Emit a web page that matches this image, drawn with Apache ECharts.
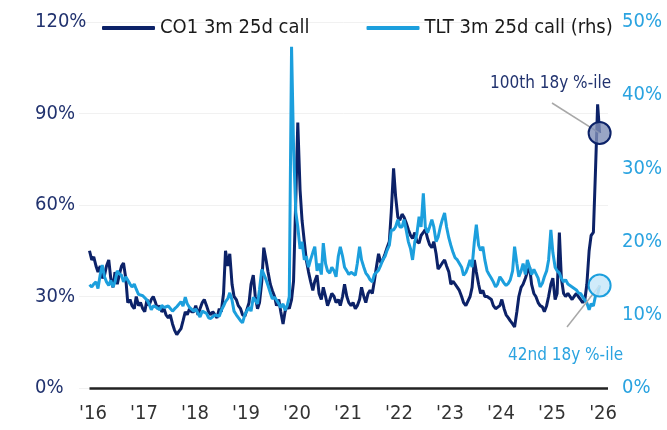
<!DOCTYPE html>
<html><head><meta charset="utf-8">
<script src="https://cdn.jsdelivr.net/npm/echarts@6/dist/echarts.min.js"></script>
<style>html,body{margin:0;padding:0;background:#fff}#c{width:667px;height:430px}</style>
</head><body><div id="c"></div>
<script>
// Semi-monthly sample dates
const dates = [
'2016-03-15','2016-04-01','2016-04-15','2016-05-01','2016-05-15','2016-06-01','2016-06-15','2016-07-01','2016-07-15','2016-08-01','2016-08-15','2016-09-01','2016-09-15','2016-10-01','2016-10-15','2016-11-01','2016-11-15','2016-12-01','2016-12-15',
'2017-01-01','2017-01-15','2017-02-01','2017-02-15','2017-03-01','2017-03-15','2017-04-01','2017-04-15','2017-05-01','2017-05-15','2017-06-01','2017-06-15','2017-07-01','2017-07-15','2017-08-01','2017-08-15','2017-09-01','2017-09-15','2017-10-01','2017-10-15','2017-11-01','2017-11-15','2017-12-01','2017-12-15',
'2018-01-01','2018-01-15','2018-02-01','2018-02-15','2018-03-01','2018-03-15','2018-04-01','2018-04-15','2018-05-01','2018-05-15','2018-06-01','2018-06-15','2018-07-01','2018-07-15','2018-08-01','2018-08-15','2018-09-01','2018-09-15','2018-10-01','2018-10-15','2018-11-01','2018-11-15','2018-12-01','2018-12-15',
'2019-01-01','2019-01-15','2019-02-01','2019-02-15','2019-03-01','2019-03-15','2019-04-01','2019-04-15','2019-05-01','2019-05-15','2019-06-01','2019-06-15','2019-07-01','2019-07-15','2019-08-01','2019-08-15','2019-09-01','2019-09-15','2019-10-01','2019-10-15','2019-11-01','2019-11-15','2019-12-01','2019-12-15',
'2020-01-01','2020-01-15','2020-02-01','2020-02-15','2020-03-01','2020-03-15','2020-04-01','2020-04-15','2020-05-01','2020-05-15','2020-06-01','2020-06-15','2020-07-01','2020-07-15','2020-08-01','2020-08-15','2020-09-01','2020-09-15','2020-10-01','2020-10-15','2020-11-01','2020-11-15','2020-12-01','2020-12-15',
'2021-01-01','2021-01-15','2021-02-01','2021-02-15','2021-03-01','2021-03-15','2021-04-01','2021-04-15','2021-05-01','2021-05-15','2021-06-01','2021-06-15','2021-07-01','2021-07-15','2021-08-01','2021-08-15','2021-09-01','2021-09-15','2021-10-01','2021-10-15','2021-11-01','2021-11-15','2021-12-01','2021-12-15',
'2022-01-01','2022-01-15','2022-02-01','2022-02-15','2022-03-01','2022-03-15','2022-04-01','2022-04-15','2022-05-01','2022-05-15','2022-06-01','2022-06-15','2022-07-01','2022-07-15','2022-08-01','2022-08-15','2022-09-01','2022-09-15','2022-10-01','2022-10-15','2022-11-01','2022-11-15','2022-12-01','2022-12-15',
'2023-01-01','2023-01-15','2023-02-01','2023-02-15','2023-03-01','2023-03-15','2023-04-01','2023-04-15','2023-05-01','2023-05-15','2023-06-01','2023-06-15','2023-07-01','2023-07-15','2023-08-01','2023-08-15','2023-09-01','2023-09-15','2023-10-01','2023-10-15','2023-11-01','2023-11-15','2023-12-01','2023-12-15',
'2024-01-01','2024-01-15','2024-02-01','2024-02-15','2024-03-01','2024-03-15','2024-04-01','2024-04-15','2024-05-01','2024-05-15','2024-06-01','2024-06-15','2024-07-01','2024-07-15','2024-08-01','2024-08-15','2024-09-01','2024-09-15','2024-10-01','2024-10-15','2024-11-01','2024-11-15','2024-12-01','2024-12-15',
'2025-01-01','2025-01-15','2025-02-01','2025-02-15','2025-03-01','2025-03-15','2025-04-01','2025-04-15','2025-05-01','2025-05-15','2025-06-01','2025-06-15','2025-07-01','2025-07-15','2025-08-01','2025-08-15','2025-09-01','2025-09-15','2025-10-01','2025-10-15','2025-11-01','2025-11-15','2025-12-01','2025-12-15',
'2026-01-01','2026-01-15','2026-02-01','2026-02-15','2026-03-01','2026-03-15'
];
// CO1 3m 25d call implied vol (%), left axis
const co1Vol = [
45,42,43,40,38,40,36,37,40,42,36,33,38,34,37,40,41,36,28,
29,27,26,30,27,28,26,25,29,27,29,30,28,26,27,25,26,24,23,24,21,19,17.5,18.5,
19.5,22,25,24,26,25,25,27,24,26,28,29,27,25,24,25,24,23,26,25,31,45,40,44,
34,30,29,27,26,24,23.5,23,28,34,37,30,26,28,35,46,42,38,34,32,30,27,29,25,
21,25,27,26,29,35,62,87,65,55,48,42,38,35,32,35,37,31,29,33,30,27,29,31,
30,28,29,27,30,34,30,28,27,28,26,27,29,33,30,28,31,32,31,35,40,44,41,42,
44,46,48,58,72,63,56,55,57,56,54,52,50,49,51,48,47.5,50,51,52,49,47,46,48,
44,39,40,41,42,40,38,34,35,35,33,32,30,28,27,27,30,33,42,38,34,31,32,30,
30,30,29,27,26,25.6,27,29,26,24,23,22,21,20,25,30,33,34,36,38,39.7,34,31,30,
28,27,26.6,25,27,30,34,36,29,31,51,36,31,30,31,31,29,30,31,30,29,28,29,34,
45,50,51,70,93,83.6
];
// TLT 3m 25d call implied vol (%), right axis
const tltVol = [
14.1,13.8,14.2,14.5,13.6,15.5,16.8,15.2,14.5,14,14.7,13.8,14.5,16,15.6,15.4,14.5,15.2,15,
14.2,13.8,14.2,13.5,12.8,13,12.6,12.4,12,11.5,10.7,11.2,11.1,11,10.7,11.3,11,10.8,11.2,11.2,10.5,10.8,11.1,11,
11.8,11.2,12.4,11.5,11,11,10.5,10.8,10.2,9.7,10.5,10.3,10.2,9.6,9.5,9.3,10,9.9,9.8,10.6,11.2,11.8,12.2,13,
12,10.5,10,9.8,9.2,8.9,10,10.5,11,10.5,12.4,12.4,11.5,13.5,16.2,16,14.8,14,13,12.2,12.4,12,11.5,11,
11.5,10.6,11.3,12.5,46.6,33,24,22,19,20,17.5,18,16.5,17.5,18.5,19.3,16,17,15.5,19.8,17,16,15.7,16.5,
16,15.2,18,19.3,18,16.5,16,15.5,15.8,16,15.4,17,19.3,17.5,16.5,15.7,15.3,14.8,14.5,15.5,15.8,16.1,16.8,17.5,
18,18.8,19.5,21.6,21.6,22,23,22,22,23,21.5,20,19,17.5,20,21,23.4,22,26.6,22,21.2,22,23,22,
20,20.6,22,23,23.9,22,20.5,19.5,18.5,17.8,17.5,17.5,16.5,15.4,15.8,16.5,17.5,16.5,20,22.3,19.5,18.8,19.3,17.5,
16,15.5,15,14.5,13.8,14.2,15.2,14.8,14.3,14,14.3,14.8,16,19.3,17,15.2,16,17,15.5,17.5,16.5,15.5,16.2,16,
15,13.8,14.3,15.2,16,17.5,21.6,18.5,16.5,16,15.7,15,14.5,14.8,14.2,14,13.8,13.6,13.4,13,12.9,12.8,12,11.6,
10.7,11.5,11.2,12.5,12.8,14
];
const seriesNames = ['CO1 3m 25d call', 'TLT 3m 25d call (rhs)'];
const annotations = ['100th 18y %-ile', '42nd 18y %-ile'];
const leftTicks = {min: 0, max: 120, step: 30};
const rightTicks = {min: 0, max: 50, step: 10};
const xRange = {min: 2016, max: 2026.37, step: 1};

const FONT = '"DejaVu Sans Condensed", "DejaVu Sans", sans-serif';
const NAVY = '#0c2268';
const LBLUE = '#1c9fdd';

function toYear(s) { const p = s.split('-').map(Number); return p[0] + (p[1] - 1 + (p[2] - 1) / 30) / 12; }
const xs = dates.map(toYear);
const coData = xs.map((x, i) => [x, co1Vol[i]]);
const tltData = xs.map((x, i) => [x, tltVol[i]]);
const coLast = coData[coData.length - 1];
const tltLast = tltData[tltData.length - 1];

const chart = echarts.init(document.getElementById('c'), null, {renderer: 'canvas'});
chart.setOption({
  animation: false,
  backgroundColor: '#fff',
  textStyle: {fontFamily: FONT},
  grid: {left: 79, right: 59, top: 22, bottom: 42, containLabel: false},
  legend: {
    left: 97, top: 13, itemWidth: 53, itemHeight: 4, itemGap: 57, icon: 'roundRect',
    textStyle: {fontFamily: FONT, fontSize: 20, color: '#1a1a1a'},
    data: seriesNames
  },
  xAxis: {
    type: 'value', min: xRange.min, max: xRange.max, interval: xRange.step,
    axisLine: {show: false}, axisTick: {show: false}, splitLine: {show: false},
    axisLabel: {
      fontFamily: FONT, fontSize: 20, color: '#333', align: 'left', margin: 16,
      formatter: v => (Math.abs(v - Math.round(v)) < 1e-6 ? "'" + String(Math.round(v)).slice(2) : '')
    }
  },
  yAxis: [
    {type: 'value', min: leftTicks.min, max: leftTicks.max, interval: leftTicks.step, position: 'left',
     axisLine: {show: false}, axisTick: {show: false},
     splitLine: {lineStyle: {color: '#f1f1f1', width: 1}},
     axisLabel: {formatter: '{value}%', fontFamily: FONT, fontSize: 20, color: '#22336f', align: 'left', margin: 44}},
    {type: 'value', min: rightTicks.min, max: rightTicks.max, interval: rightTicks.step, position: 'right',
     axisLine: {show: false}, axisTick: {show: false}, splitLine: {show: false},
     axisLabel: {formatter: '{value}%', fontFamily: FONT, fontSize: 20, color: '#2aa3e0', align: 'left', margin: 14}}
  ],
  series: [
    {name: seriesNames[0], type: 'line', yAxisIndex: 0, data: coData, symbol: 'none', showSymbol: false,
     lineStyle: {color: NAVY, width: 3}, itemStyle: {color: NAVY}, z: 2,
     markLine: {silent: true, symbol: ['none', 'none'], label: {show: false},
       data: [
         [{coord: [xs[0], 0], lineStyle: {color: '#222', width: 2.5, type: 'solid'}}, {coord: [xRange.max, 0]}],
         [{coord: coLast, lineStyle: {color: '#a8a8a8', width: 1.5, type: 'solid'}}, {x: 552, y: 103}]
       ]},
     markPoint: {silent: true, symbol: 'circle', symbolSize: 22, label: {show: false},
       itemStyle: {color: 'rgba(128,142,182,0.8)', borderColor: NAVY, borderWidth: 2},
       data: [{coord: coLast}]}
    },
    {name: seriesNames[1], type: 'line', yAxisIndex: 1, data: tltData, symbol: 'none', showSymbol: false,
     lineStyle: {color: LBLUE, width: 3}, itemStyle: {color: LBLUE}, z: 3,
     markLine: {silent: true, symbol: ['none', 'none'], label: {show: false},
       data: [[{coord: tltLast, lineStyle: {color: '#a8a8a8', width: 1.5, type: 'solid'}}, {x: 567, y: 327}]]},
     markPoint: {silent: true, symbol: 'circle', symbolSize: 22, label: {show: false},
       itemStyle: {color: 'rgba(200,232,249,0.85)', borderColor: LBLUE, borderWidth: 2},
       data: [{coord: tltLast}]}
    }
  ],
  graphic: [
    {type: 'text', left: 490, top: 75, style: {text: annotations[0], fill: '#22336f', font: '17px ' + FONT}},
    {type: 'text', left: 508, top: 347, style: {text: annotations[1], fill: '#2aa3e0', font: '17px ' + FONT}}
  ]
});
</script>
</body></html>
